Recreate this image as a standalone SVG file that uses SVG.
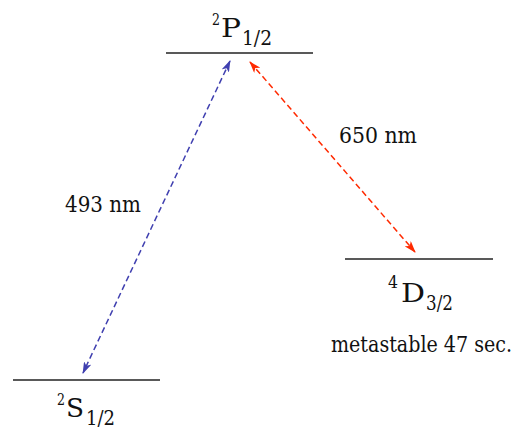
<svg xmlns="http://www.w3.org/2000/svg" width="515" height="434" viewBox="0 0 515 434">
<defs>
<style>
.lvl{stroke:#222;stroke-width:1.6;}
text{fill:#111;font-family:'DejaVu Serif Condensed','DejaVu Serif','Liberation Serif',serif;}
.big{font-size:26px;}
.sup{font-size:16.5px;}
.sub{font-size:20px;}
.lab{font-size:23px;}
.meta{font-size:22px;}
.blue{stroke:#4040b0;stroke-width:1.5;stroke-dasharray:6 3.5;fill:none;}
.red{stroke:#ff2a00;stroke-width:1.5;stroke-dasharray:6 3.5;fill:none;}
</style>
<marker id="ab" viewBox="0 0 12 8" refX="11" refY="4" markerWidth="12" markerHeight="8" markerUnits="userSpaceOnUse" orient="auto-start-reverse">
<path d="M0,0 L12,4 L0,8 L3,4 Z" fill="#4040b0"/>
</marker>
<marker id="ar" viewBox="0 0 12 8" refX="11" refY="4" markerWidth="12" markerHeight="8" markerUnits="userSpaceOnUse" orient="auto-start-reverse">
<path d="M0,0 L12,4 L0,8 L3,4 Z" fill="#ff2a00"/>
</marker>
</defs>
<rect width="515" height="434" fill="#fff"/>
<g id="P12">
<line class="lvl" x1="166" y1="53" x2="313" y2="53"/>
<text class="sup" x="212" y="25" textLength="8" lengthAdjust="spacingAndGlyphs">2</text>
<text class="big" x="221" y="37" textLength="20" lengthAdjust="spacingAndGlyphs">P</text>
<text class="sub" x="242" y="45" textLength="30" lengthAdjust="spacingAndGlyphs">1/2</text>
</g>
<g id="S12">
<line class="lvl" x1="13" y1="380" x2="160" y2="380"/>
<text class="sup" x="57" y="405" textLength="8" lengthAdjust="spacingAndGlyphs">2</text>
<text class="big" x="66" y="417" textLength="18" lengthAdjust="spacingAndGlyphs">S</text>
<text class="sub" x="86" y="425" textLength="29" lengthAdjust="spacingAndGlyphs">1/2</text>
</g>
<g id="D32">
<line class="lvl" x1="345" y1="259" x2="493" y2="259"/>
<text class="sup" x="388" y="288" textLength="10" lengthAdjust="spacingAndGlyphs">4</text>
<text class="big" x="401" y="302" textLength="24" lengthAdjust="spacingAndGlyphs">D</text>
<text class="sub" x="426" y="310" textLength="27" lengthAdjust="spacingAndGlyphs">3/2</text>
<text class="meta" x="331" y="352" textLength="181" lengthAdjust="spacingAndGlyphs">metastable 47 sec.</text>
</g>
<g id="connectors">
<line class="blue" x1="230" y1="61" x2="83" y2="373" marker-start="url(#ab)" marker-end="url(#ab)"/>
<line class="red" x1="250" y1="62" x2="415" y2="252" marker-start="url(#ar)" marker-end="url(#ar)"/>
<text class="lab" x="65" y="212" textLength="76" lengthAdjust="spacingAndGlyphs">493 nm</text>
<text class="lab" x="339" y="143" textLength="78" lengthAdjust="spacingAndGlyphs">650 nm</text>
</g>
</svg>
